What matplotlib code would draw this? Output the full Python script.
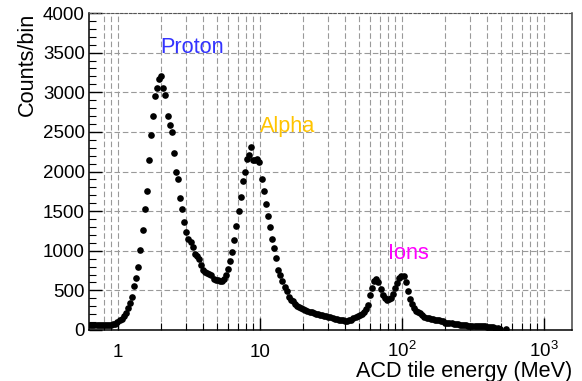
from __future__ import annotations

import matplotlib

matplotlib.use("Agg")
import matplotlib.pyplot as plt
import numpy as np
from matplotlib.ticker import FixedLocator, MultipleLocator, NullFormatter

plt.rcParams["font.family"] = ["Liberation Sans", "DejaVu Sans"]
plt.rcParams["mathtext.fontset"] = "custom"
plt.rcParams["mathtext.rm"] = "Liberation Sans"

# histogram binning: log-uniform bins, centre of bin 0 at 10**-0.195 MeV
BINS_PER_DECADE = 68
FIRST_LOG_CENTRE = -0.195

# counts per bin (nan = empty bin, not drawn)
counts = [
    58, 60, 60, 61, 62, 62, 63, 64, 65, 66,
    68, 72, 82, 100, 122, 145, 175, 215, 275, 335,
    420, 550, 660, 790, 1010, 1260, 1530, 1760, 2150, 2460,
    2700, 2950, 3055, 3170, 3210, 3050, 2970, 2700, 2585, 2500,
    2230, 2000, 1900, 1670, 1530, 1360, 1240, 1150, 1105, 1050,
    960, 930, 900, 820, 755, 735, 720, 710, 690, 648,
    637, 628, 615, 612, 645, 690, 770, 870, 980, 1130,
    1310, 1500, 1680, 1880, 2000, 2160, 2205, 2310, 2140, 2140,
    2160, 2120, 1900, 1760, 1590, 1440, 1300, 1150, 1040, 910,
    760, 700, 615, 545, 496, 415, 380, 360, 330, 305,
    292, 272, 262, 250, 240, 230, 222, 215, 208, 200,
    190, 186, 180, 172, 166, 162, 152, 145, 138, 132,
    126, 120, 115, 110, 120, 132, 148, 160, 175, 190,
    205, 225, 260, 320, 440, 530, 615, 645, 605, 520,
    445, 400, 380, 395, 410, 460, 530, 590, 655, 685,
    678, 605, 495, 390, 325, 280, 245, 230, 215, 189,
    165, 155, 148, 138, 140, 128, 128, 125, 112, 118,
    92, 88, 85, 84, 82, 76, 72, 68, 64, 62,
    58, 55, 55, 55, 53, 51, 50, 50, 50, 46,
    43, 40, 36, 33, 26, 20, 8, np.nan, np.nan, 10,
]

decade_ticks = [1, 10, 100, 1000]
decade_labels = ["1", "10", r"$\mathregular{10^{2}}$", r"$\mathregular{10^{3}}$"]
minor_ticks = [0.8, 0.9] + [k * 10**p for p in range(3) for k in range(2, 10)]

particle_names = ["Proton", "Alpha", "Ions"]
particle_energy = [2.0, 10.0, 80.0]
particle_counts = [3500, 2500, 900]
particle_colors = ["#3333ff", "#ffc400", "#ff00ff"]

TICK_FS = 13.5
TITLE_FS = 15.6
GRID_KW = dict(color="#9a9a9a", linestyle=(0, (5, 2.5)), linewidth=0.8)


def bin_centres(n: int) -> np.ndarray:
    """Energy (MeV) at the centre of each log bin."""
    return 10 ** (FIRST_LOG_CENTRE + np.arange(n) / BINS_PER_DECADE)


fig = plt.figure(figsize=(5.82, 3.81), dpi=100)
ax = fig.add_axes([89 / 582, 51 / 381, 483 / 582, 317 / 381])

energy = bin_centres(len(counts))
ax.plot(energy, counts, "o", color="black", markersize=4.8, markeredgewidth=0)

ax.set_xscale("log")
ax.set_xlim(0.625, 1575)
ax.set_ylim(0, 4000)

ax.xaxis.set_major_locator(FixedLocator(decade_ticks))
ax.xaxis.set_minor_locator(FixedLocator(minor_ticks))
ax.xaxis.set_major_formatter(NullFormatter())
ax.xaxis.set_minor_formatter(NullFormatter())
ax.yaxis.set_major_locator(MultipleLocator(500))
ax.yaxis.set_minor_locator(MultipleLocator(100))

ax.tick_params(which="major", direction="in", length=9, width=1)
ax.tick_params(which="minor", direction="in", length=5, width=0.8)
ax.tick_params(axis="y", labelsize=TICK_FS, pad=3)

ax.set_axisbelow(True)
ax.grid(True, axis="x", which="both", **GRID_KW)
ax.grid(True, axis="y", which="major", **GRID_KW)

ax.spines["top"].set_linestyle((0, (2, 2)))
ax.spines["top"].set_color("#555555")
ax.spines["top"].set_linewidth(0.8)
ax.spines["right"].set_color("#444444")
for side in ("left", "bottom", "right"):
    ax.spines[side].set_linewidth(1.1)

# decade labels sit on a common baseline, as in ROOT
for value, text in zip(decade_ticks, decade_labels):
    ax.text(value, -0.085, text, transform=ax.get_xaxis_transform(),
            ha="center", va="baseline", fontsize=TICK_FS)

for name, e, c, col in zip(particle_names, particle_energy, particle_counts, particle_colors):
    ax.text(e, c, name, color=col, fontsize=TITLE_FS, ha="left", va="baseline")

ax.set_xlabel("ACD tile energy (MeV)", loc="right", fontsize=TITLE_FS)
ax.xaxis.set_label_coords(1.0, -0.097)
ax.set_ylabel("Counts/bin", loc="top", fontsize=TITLE_FS)
ax.yaxis.set_label_coords(-0.105, 1.0)

fig.savefig("out.png", dpi=100)
